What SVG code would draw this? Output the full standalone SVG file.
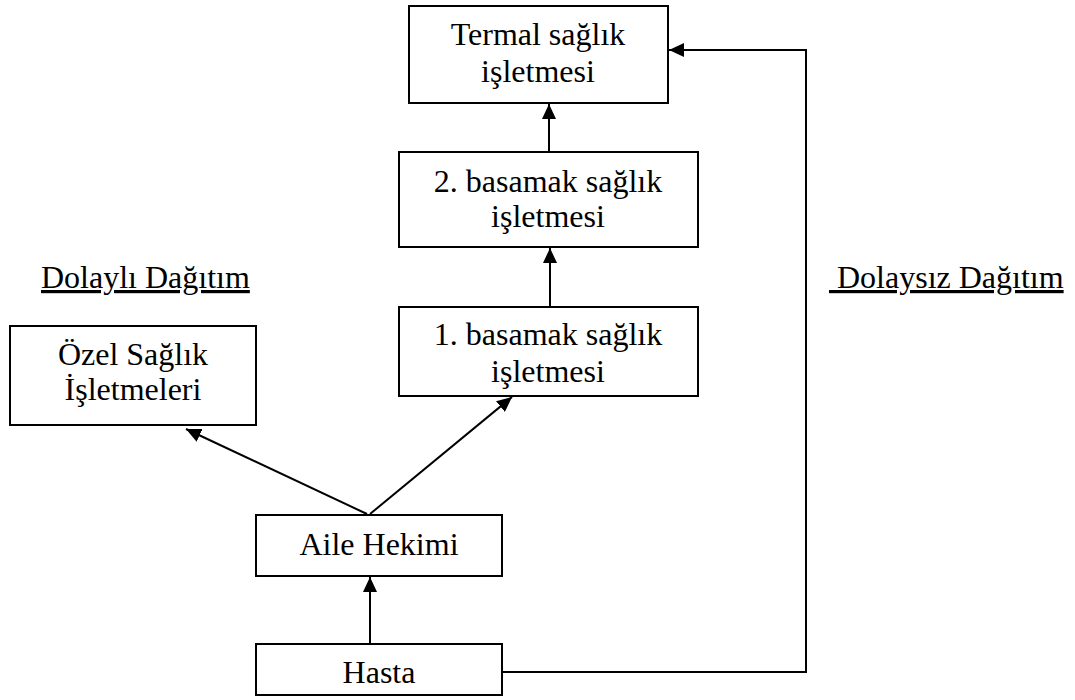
<svg xmlns="http://www.w3.org/2000/svg" width="1075" height="700" viewBox="0 0 1075 700">
<style>
.box{fill:#fff;stroke:#000;stroke-width:2}
.t{font-family:"Liberation Serif","Times New Roman",serif;font-size:32px;fill:#000;text-anchor:middle}
.lbl{font-family:"Liberation Serif","Times New Roman",serif;font-size:32px;fill:#000;text-decoration:underline}
.c{fill:none;stroke:#000;stroke-width:2}
</style>
<defs>
<marker id="ah" viewBox="0 0 15 14" refX="15" refY="7" markerWidth="15" markerHeight="14" markerUnits="userSpaceOnUse" orient="auto">
<path d="M0,0 L15,7 L0,14 Z" fill="#000"/>
</marker>
</defs>
<rect width="1075" height="700" fill="#fff"/>
<g id="connectors">
<line class="c" x1="549" y1="152" x2="549" y2="104" marker-end="url(#ah)"/>
<line class="c" x1="550" y1="306" x2="550" y2="248" marker-end="url(#ah)"/>
<line class="c" x1="370" y1="514" x2="512" y2="397" marker-end="url(#ah)"/>
<line class="c" x1="367" y1="514" x2="186" y2="429" marker-end="url(#ah)"/>
<line class="c" x1="370" y1="644" x2="370" y2="577" marker-end="url(#ah)"/>
<polyline class="c" points="502,672 806,672 806,50 669,50" marker-end="url(#ah)"/>
</g>
<g id="termal">
<rect class="box" x="409" y="6" width="259" height="97"/>
<text class="t" x="538" y="45">Termal sağlık</text>
<text class="t" x="538" y="82">işletmesi</text>
</g>
<g id="basamak2">
<rect class="box" x="399" y="152" width="299" height="95"/>
<text class="t" x="548" y="192">2. basamak sağlık</text>
<text class="t" x="548" y="227">işletmesi</text>
</g>
<g id="basamak1">
<rect class="box" x="399" y="307" width="299" height="89"/>
<text class="t" x="548" y="345">1. basamak sağlık</text>
<text class="t" x="548" y="382">işletmesi</text>
</g>
<g id="ozel">
<rect class="box" x="10" y="326" width="246" height="99"/>
<text class="t" x="133" y="365">Özel Sağlık</text>
<text class="t" x="133" y="400">İşletmeleri</text>
</g>
<g id="aile">
<rect class="box" x="256" y="515" width="246" height="61"/>
<text class="t" x="379" y="555">Aile Hekimi</text>
</g>
<g id="hasta">
<rect class="box" x="256" y="644" width="246" height="51"/>
<text class="t" x="379" y="683">Hasta</text>
</g>
<g id="labels">
<text class="lbl" x="41" y="288">Dolaylı Dağıtım</text>
<text class="lbl" x="829" y="288" xml:space="preserve"> Dolaysız Dağıtım</text>
</g>
</svg>
